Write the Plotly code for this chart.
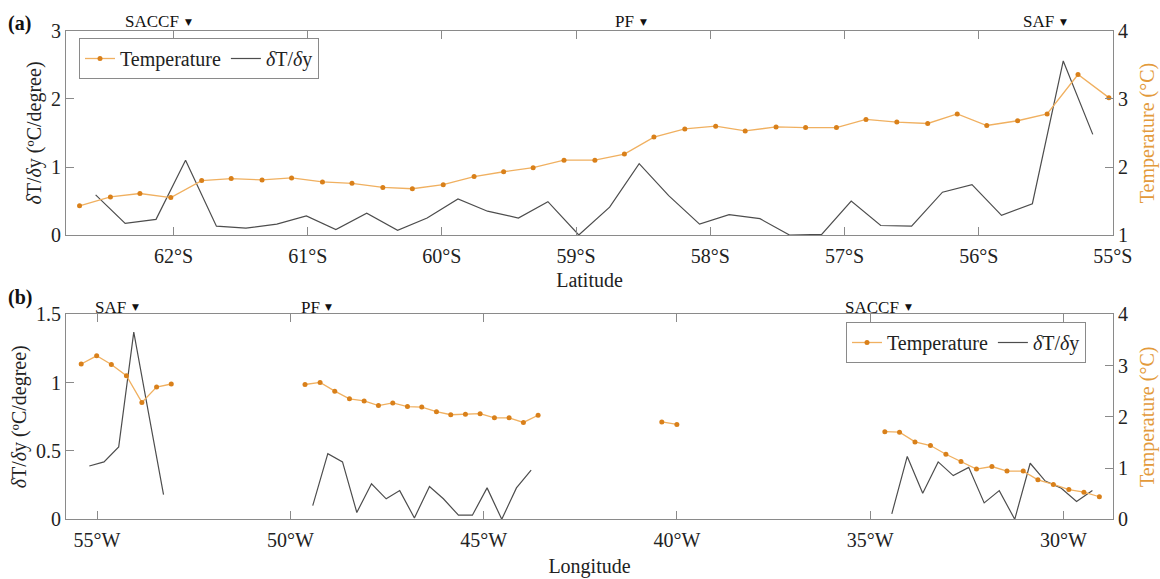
import plotly.graph_objects as go

# ---------------- Panel (a): along latitude ----------------
lat_temp = [-62.70, -62.47, -62.25, -62.02, -61.79, -61.57, -61.34, -61.12, -60.89, -60.67,
            -60.44, -60.22, -59.99, -59.76, -59.54, -59.32, -59.09, -58.86, -58.64, -58.42,
            -58.19, -57.96, -57.74, -57.51, -57.29, -57.06, -56.84, -56.61, -56.38, -56.16,
            -55.94, -55.71, -55.49, -55.26, -55.03]
temp_a = [1.43, 1.56, 1.61, 1.55, 1.80, 1.83, 1.81, 1.84, 1.78, 1.76,
          1.70, 1.68, 1.74, 1.86, 1.93, 1.99, 2.10, 2.10, 2.19, 2.44,
          2.56, 2.60, 2.53, 2.59, 2.58, 2.58, 2.70, 2.66, 2.64, 2.78,
          2.61, 2.68, 2.78, 3.36, 3.02]

lat_grad = [-62.58, -62.36, -62.13, -61.91, -61.68, -61.46, -61.23, -61.01, -60.79, -60.56,
            -60.33, -60.11, -59.88, -59.66, -59.43, -59.21, -58.98, -58.75, -58.53, -58.31,
            -58.08, -57.86, -57.63, -57.41, -57.17, -56.95, -56.73, -56.50, -56.27, -56.05,
            -55.83, -55.60, -55.37, -55.15]
grad_a = [0.59, 0.17, 0.23, 1.10, 0.13, 0.10, 0.16, 0.28, 0.08, 0.32,
          0.07, 0.25, 0.53, 0.35, 0.25, 0.49, 0.00, 0.41, 1.05, 0.58,
          0.16, 0.30, 0.24, 0.00, 0.01, 0.50, 0.14, 0.13, 0.63, 0.74,
          0.29, 0.46, 2.56, 1.48]

lat_ticks = [-62, -61, -60, -59, -58, -57, -56, -55]
lat_ticktext = ["62°S", "61°S", "60°S", "59°S", "58°S", "57°S", "56°S", "55°S"]
fronts_a_names = ["SACCF", "PF", "SAF"]
fronts_a_pos = [-61.89, -58.50, -55.37]

# ---------------- Panel (b): along longitude ----------------
lon_temp = [-55.41, -55.01, -54.63, -54.24, -53.84, -53.46, -53.08, None,
            -49.62, -49.23, -48.85, -48.47, -48.09, -47.72, -47.35, -46.97, -46.60,
            -46.22, -45.85, -45.47, -45.09, -44.72, -44.34, -43.97, -43.59, None,
            -40.39, -40.00, None,
            -34.62, -34.24, -33.84, -33.44, -33.04, -32.65, -32.25, -31.85, -31.46,
            -31.04, -30.66, -30.26, -29.86, -29.47, -29.07]
temp_b = [3.03, 3.19, 3.02, 2.80, 2.28, 2.58, 2.64, None,
          2.63, 2.67, 2.50, 2.35, 2.31, 2.22, 2.27, 2.20, 2.19,
          2.10, 2.04, 2.05, 2.06, 1.98, 1.98, 1.89, 2.03, None,
          1.90, 1.85, None,
          1.71, 1.70, 1.51, 1.44, 1.27, 1.13, 0.98, 1.03, 0.94,
          0.94, 0.77, 0.68, 0.58, 0.53, 0.44]

lon_grad = [-55.20, -54.82, -54.44, -54.05, -53.67, -53.28, None,
            -49.42, -49.03, -48.65, -48.28, -47.90, -47.52, -47.17, -46.79, -46.40,
            -46.04, -45.65, -45.29, -44.91, -44.53, -44.15, -43.77, None,
            -34.44, -34.04, -33.64, -33.24, -32.85, -32.45, -32.05, -31.66, -31.26,
            -30.86, -30.47, -30.07, -29.66, -29.25]
grad_b = [0.39, 0.42, 0.53, 1.37, 0.78, 0.18, None,
          0.10, 0.48, 0.42, 0.05, 0.26, 0.15, 0.21, 0.01, 0.24,
          0.15, 0.03, 0.03, 0.23, 0.00, 0.23, 0.36, None,
          0.04, 0.46, 0.19, 0.42, 0.32, 0.38, 0.12, 0.21, 0.00,
          0.41, 0.28, 0.23, 0.13, 0.21]

lon_ticks = [-55, -50, -45, -40, -35, -30]
lon_ticktext = ["55°W", "50°W", "45°W", "40°W", "35°W", "30°W"]
fronts_b_names = ["SAF", "PF", "SACCF"]
fronts_b_pos = [-54.01, -49.00, -34.02]

# ---------------- styling ----------------
FONT = "Liberation Serif, Times New Roman, serif"
ORANGE_LINE = "#F0B060"
ORANGE_MK = "#D9801A"
ORANGE_TXT = "#E39A3A"
GRAY = "#4d4d4d"
AXIS = "#8a8a8a"
TXT = "#222222"
FS = 20

XDOM = [0.0570, 0.9594]
YDOM_A = [0.5941, 0.9465]
YDOM_B = [0.1031, 0.4572]

legend_label_grad = "<i>δ</i>T/<i>δ</i>y"

fig = go.Figure()
fig.add_trace(go.Scatter(x=lat_temp, y=temp_a, xaxis="x", yaxis="y2", mode="lines+markers",
                         line=dict(color=ORANGE_LINE, width=1.3),
                         marker=dict(color=ORANGE_MK, size=5),
                         name="Temperature", legend="legend", cliponaxis=False))
fig.add_trace(go.Scatter(x=lat_grad, y=grad_a, xaxis="x", yaxis="y", mode="lines",
                         line=dict(color=GRAY, width=1.2),
                         name=legend_label_grad, legend="legend"))
fig.add_trace(go.Scatter(x=lon_temp, y=temp_b, xaxis="x2", yaxis="y4", mode="lines+markers",
                         line=dict(color=ORANGE_LINE, width=1.3),
                         marker=dict(color=ORANGE_MK, size=5), connectgaps=False,
                         name="Temperature", legend="legend2", cliponaxis=False))
fig.add_trace(go.Scatter(x=lon_grad, y=grad_b, xaxis="x2", yaxis="y3", mode="lines",
                         line=dict(color=GRAY, width=1.2), connectgaps=False,
                         name=legend_label_grad, legend="legend2"))

common_axis = dict(showline=True, linecolor=AXIS, linewidth=1.2, ticks="inside", ticklen=8,
                   tickcolor=AXIS, tickwidth=1.2, showgrid=False, zeroline=False,
                   tickfont=dict(family=FONT, size=FS, color=TXT), automargin=False)

fig.update_layout(
    width=1160, height=579,
    margin=dict(l=0, r=0, t=0, b=0),
    paper_bgcolor="white", plot_bgcolor="white",
    font=dict(family=FONT, size=FS, color=TXT),
    xaxis=dict(domain=XDOM, anchor="y", range=[-62.8, -55.0], tickvals=lat_ticks,
               ticktext=lat_ticktext, mirror="ticks", ticklabelstandoff=3,
               title=dict(text="Latitude", font=dict(family=FONT, size=FS, color=TXT), standoff=6),
               **common_axis),
    yaxis=dict(domain=YDOM_A, anchor="x", range=[0, 3], tickvals=[0, 1, 2, 3],
               title=dict(text="<i>δ</i>T/<i>δ</i>y (ºC/degree)",
                          font=dict(family=FONT, size=FS, color=TXT), standoff=4),
               **common_axis),
    yaxis2=dict(overlaying="y", anchor="x", side="right", range=[1, 4], tickvals=[1, 2, 3, 4],
                title=dict(text="Temperature (°C)", font=dict(family=FONT, size=FS, color=ORANGE_TXT),
                           standoff=13),
                **common_axis),
    xaxis2=dict(domain=XDOM, anchor="y3", range=[-55.8, -28.72], tickvals=lon_ticks,
                ticktext=lon_ticktext, mirror="ticks", ticklabelstandoff=3,
                title=dict(text="Longitude", font=dict(family=FONT, size=FS, color=TXT), standoff=8),
                **common_axis),
    yaxis3=dict(domain=YDOM_B, anchor="x2", range=[0, 1.5], tickvals=[0, 0.5, 1, 1.5],
                ticktext=["0", "0.5", "1", "1.5"],
                title=dict(text="<i>δ</i>T/<i>δ</i>y (ºC/degree)",
                           font=dict(family=FONT, size=FS, color=TXT), standoff=4),
                **common_axis),
    yaxis4=dict(overlaying="y3", anchor="x2", side="right", range=[0, 4], tickvals=[0, 1, 2, 3, 4],
                title=dict(text="Temperature (°C)", font=dict(family=FONT, size=FS, color=ORANGE_TXT),
                           standoff=13),
                **common_axis),
    legend=dict(x=79 / 1160, y=1 - 38 / 579, xanchor="left", yanchor="top",
                orientation="h", bordercolor=AXIS, borderwidth=1, bgcolor="white",
                font=dict(family=FONT, size=FS, color=TXT), tracegroupgap=0,
                itemwidth=30),
    legend2=dict(x=846 / 1160, y=1 - 322 / 579, xanchor="left", yanchor="top",
                 orientation="h", bordercolor=AXIS, borderwidth=1, bgcolor="white",
                 font=dict(family=FONT, size=FS, color=TXT), tracegroupgap=0,
                 itemwidth=30),
    showlegend=True,
)

annotations = []
annotations.append(dict(text="<b>(a)</b>", x=6 / 1160, y=1 - 10 / 579, xref="paper", yref="paper",
                        xanchor="left", yanchor="top", showarrow=False,
                        font=dict(family=FONT, size=20, color="#111")))
annotations.append(dict(text="<b>(b)</b>", x=6 / 1160, y=1 - 284 / 579, xref="paper", yref="paper",
                        xanchor="left", yanchor="top", showarrow=False,
                        font=dict(family=FONT, size=20, color="#111")))

def add_fronts(names, positions, xref, ypaper):
    for n, p in zip(names, positions):
        annotations.append(dict(text=n, x=p, y=ypaper, xref=xref, yref="paper",
                                xanchor="right", yanchor="middle", xshift=-7, showarrow=False,
                                font=dict(family=FONT, size=17, color="#111")))
        annotations.append(dict(text="▼", x=p, y=ypaper, xref=xref, yref="paper",
                                xanchor="center", yanchor="middle", showarrow=False,
                                font=dict(family="DejaVu Sans", size=9, color="#111")))

add_fronts(fronts_a_names, fronts_a_pos, "x", 1 - 22 / 579)
add_fronts(fronts_b_names, fronts_b_pos, "x2", 1 - 307 / 579)

fig.update_layout(annotations=annotations)

fig.write_html("out.html")
